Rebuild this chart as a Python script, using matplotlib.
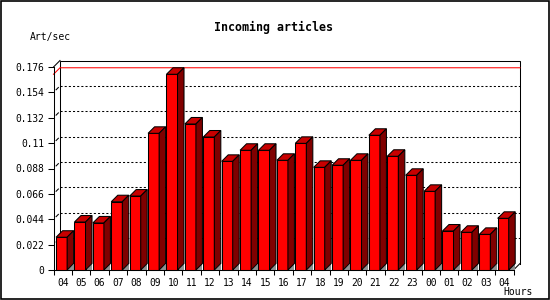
import matplotlib
matplotlib.use('Agg')
import matplotlib.pyplot as plt
from matplotlib.patches import Polygon, Rectangle

# ---- data ----
hours = ['04', '05', '06', '07', '08', '09', '10', '11', '12', '13', '14', '15', '16',
         '17', '18', '19', '20', '21', '22', '23', '00', '01', '02', '03', '04']
values = [0.0284, 0.0416, 0.0408, 0.0592, 0.0641, 0.1185, 0.1697, 0.1266, 0.1153,
          0.0942, 0.1038, 0.1038, 0.0951, 0.1098, 0.0890, 0.0908, 0.0951, 0.1168,
          0.0986, 0.0821, 0.0682, 0.0338, 0.0327, 0.0309, 0.0448]
yticks = [0, 0.022, 0.044, 0.066, 0.088, 0.11, 0.132, 0.154, 0.176]
ytick_labels = ['0', '0.022', '0.044', '0.066', '0.088', '0.11', '0.132', '0.154', '0.176']
title = 'Incoming articles'
ylabel = 'Art/sec'
xlabel = 'Hours'

# ---- style ----
FRONT = '#ff0000'
TOP = '#c80000'
SIDE = '#800000'
FLOOR = '#909090'
MONO = 'DejaVu Sans Mono'
W, H, DPI = 5.5, 3.0, 100
DEPTH_PX = 6.5

fig = plt.figure(figsize=(W, H), dpi=DPI, facecolor='white')
ax_pos = [53.5 / 550, 30 / 300, 460 / 550, 203 / 300]
ax = fig.add_axes(ax_pos)
n = len(values)
xmin, xmax = -0.5, n - 0.5
ymin, ymax = 0, yticks[-1]
ax.set_xlim(xmin, xmax)
ax.set_ylim(ymin, ymax)
ax.set_facecolor('none')

# pixel -> data conversion for the 3D depth offset
px_x = ax_pos[2] * W * DPI / (xmax - xmin)
px_y = ax_pos[3] * H * DPI / (ymax - ymin)
dx = DEPTH_PX / px_x
dy = DEPTH_PX / px_y

lw = 0.75
# back wall frame
bx0, bx1 = xmin + dx, xmax + dx
ax.plot([bx0, bx0, bx1, bx1], [dy, ymax + dy, ymax + dy, dy], color='black', lw=lw,
        clip_on=False, zorder=2, solid_joinstyle='miter')
# dotted grid on back wall
for v in yticks[1:-1]:
    ax.plot([bx0, bx1], [v + dy, v + dy], color='black', lw=lw, ls=(0, (2.0, 2.0)),
            clip_on=False, zorder=1)
    # small depth ticks
    ax.plot([xmin + 0.4 * dx, xmin + 0.75 * dx], [v + 0.4 * dy, v + 0.75 * dy],
            color='black', lw=lw, clip_on=False, zorder=1)
# corner edges
ax.plot([xmin, bx0], [ymax, ymax + dy], color='black', lw=lw, clip_on=False, zorder=2)
ax.plot([xmax, bx1], [0, dy], color='black', lw=lw, clip_on=False, zorder=2)
# max line (red)
vmax = max(values)
ax.plot([xmin, bx0, bx1], [vmax, vmax + dy, vmax + dy], color='#ff0000', lw=lw,
        clip_on=False, zorder=2)

# bars
bw = 0.6
shift = -0.06
for i, v in enumerate(values):
    x0 = i + shift - bw / 2
    x1 = x0 + bw
    # floor shadow
    ax.add_patch(Polygon([(x1, 0), (x1 + dx, 0), (x1 + dx, dy)], closed=True,
                         facecolor=FLOOR, edgecolor='none', clip_on=False, zorder=3))
    ax.add_patch(Rectangle((x0, 0), bw, v, facecolor=FRONT, edgecolor='black', lw=lw,
                           clip_on=False, zorder=4))
    ax.add_patch(Polygon([(x0, v), (x0 + dx, v + dy), (x1 + dx, v + dy), (x1, v)],
                         closed=True, facecolor=TOP, edgecolor='black', lw=lw,
                         clip_on=False, zorder=4))
    ax.add_patch(Polygon([(x1, 0), (x1 + dx, dy), (x1 + dx, v + dy), (x1, v)],
                         closed=True, facecolor=SIDE, edgecolor='black', lw=lw,
                         clip_on=False, zorder=4))

# axes / ticks
for s in ['top', 'right']:
    ax.spines[s].set_visible(False)
for s in ['left', 'bottom']:
    ax.spines[s].set_linewidth(lw)
    ax.spines[s].set_zorder(5)
ax.set_yticks(yticks)
ax.set_yticklabels(ytick_labels, fontfamily=MONO, fontsize=6.9)
ax.tick_params(axis='y', length=4.5, width=lw, pad=2.2, direction='out')
ax.set_xticks(range(n))
ax.set_xticklabels(hours, fontfamily=MONO, fontsize=6.9)
ax.set_xticks([k - 0.5 for k in range(n + 1)], minor=True)
ax.tick_params(axis='x', which='major', length=0, pad=5.5)
ax.tick_params(axis='x', which='minor', length=3.5, width=lw, direction='out')

fig.text(273.5 / 550, 1 - 27 / 300, title, ha='center', va='center',
         fontfamily=MONO, fontweight='bold', fontsize=8.4)
fig.text(30 / 550, 1 - 37 / 300, ylabel, ha='left', va='center',
         fontfamily=MONO, fontsize=7.0)
fig.text(533 / 550, 1 - 292 / 300, xlabel, ha='right', va='center',
         fontfamily=MONO, fontsize=7.0)

# outer border
fig.add_artist(Rectangle((0.6 / 550, 0.6 / 300), 1 - 1.8 / 550, 1 - 1.8 / 300,
                         transform=fig.transFigure, fill=False, edgecolor='black', lw=1.2))

fig.savefig('out.png', dpi=DPI, facecolor='white')
